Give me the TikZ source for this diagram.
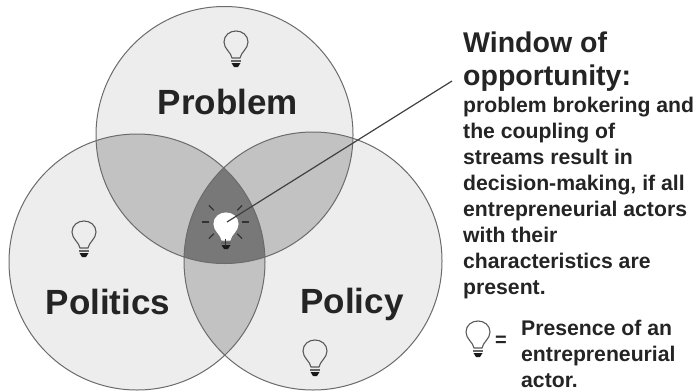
\documentclass[tikz,border=0pt]{standalone}
\usepackage{fontspec}
\setmainfont{Liberation Sans}
\usetikzlibrary{positioning}
\definecolor{oneset}{gray}{0.93}
\definecolor{twoset}{gray}{0.76}
\definecolor{threeset}{gray}{0.47}
\definecolor{edge}{gray}{0.42}
\definecolor{inkgray}{gray}{0.14}
\tikzset{
    streamname/.style={font=\bfseries\fontsize{35}{35}\selectfont,text=inkgray,inner sep=0pt,anchor=base},
    headtext/.style={font=\bfseries\fontsize{28.5}{33.5}\selectfont,text=inkgray,align=left,anchor=north west,inner sep=0pt},
    bodytext/.style={font=\bfseries\fontsize{21.2}{26}\selectfont,text=inkgray,align=left,anchor=north west,inner sep=0pt},
    pics/bulb/.style={code={
        \draw[#1,line width=1.1pt] (-4,15) .. controls (-5,9) and (-12,6) .. (-12,-1) .. controls (-12,-8) and (-6,-12) .. (0,-12) .. controls (6,-12) and (12,-8) .. (12,-1) .. controls (12,6) and (5,9) .. (4,15) -- cycle;
        \draw[black!60,line width=1.1pt] (-5,18) -- (5,18);
        \fill[black!90] (-4.5,20) -- (4.5,20) -- (2,24) -- (-2,24) -- cycle;
    }},
}
\begin{document}
\begin{tikzpicture}[x=1pt,y=-1pt]
\useasboundingbox (0,0) rectangle (700,391);

% the three streams
\coordinate (problem) at (224.5,135);
\coordinate (politics) at (137,262);
\coordinate (policy) at (313,261);
\foreach \c/\r in {problem/128.5,politics/128,policy/129} {
    \fill[oneset] (\c) circle[radius=\r pt];
}
\begin{scope}
    \clip (problem) circle[radius=128.5pt];
    \fill[twoset] (politics) circle[radius=128pt];
    \fill[twoset] (policy) circle[radius=129pt];
\end{scope}
\begin{scope}
    \clip (politics) circle[radius=128pt];
    \fill[twoset] (policy) circle[radius=129pt];
    \clip (policy) circle[radius=129pt];
    \fill[threeset] (problem) circle[radius=128.5pt];
\end{scope}
\foreach \c/\r in {problem/128.5,politics/128,policy/129} {
    \draw[edge,line width=1pt] (\c) circle[radius=\r pt];
}

\node[streamname] (problemname) at (228,114) {Problem};
\node[streamname] (politicsname) at (108,314) {Politics};
\node[streamname] (policyname) at (352,313) {Policy};

\pic at (236,43) {bulb={draw=black!65,fill=none}};
\pic at (84,233) {bulb={draw=black!65,fill=none}};
\pic at (315,352) {bulb={draw=black!65,fill=none}};
\pic at (478,333) {bulb={draw=black!65,fill=none}};

% the bulb in the middle
\pic at (226,225) {bulb={draw=white,fill=white}};
\foreach \a in {0,45,90,135,180,225,315} {
    \draw[black!80,line width=1.1pt] (225.5,222) ++(\a:16.5) -- ++(\a:7);
}

\coordinate (linestart) at (227,222);
\coordinate (lineend) at (452,81);
\draw[black!75,line width=1.2pt] (linestart) -- (lineend);

\node[headtext] (head) at (463,31.5) {Window of\\opportunity:};
\node[bodytext,below=4.5pt of head.south west,anchor=north west] (body) {problem brokering and\\the coupling of\\streams result in\\decision-making, if all\\entrepreneurial actors\\with their\\characteristics are\\present.};
\node[font=\bfseries\fontsize{20}{20}\selectfont,text=inkgray] (equals) at (501,341) {=};
\node[bodytext] (legend) at (521,320) {Presence of an\\entrepreneurial\\actor.};
\end{tikzpicture}
\end{document}
